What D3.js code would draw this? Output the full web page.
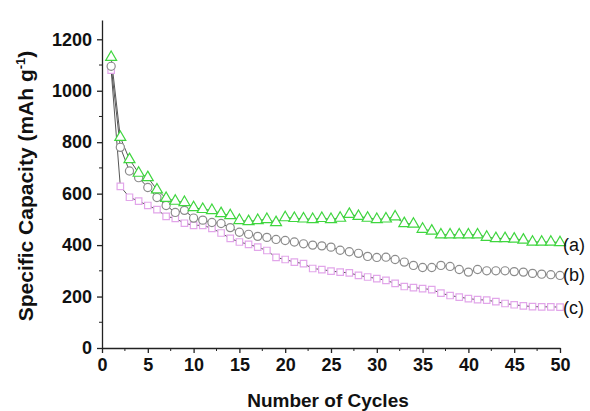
<!DOCTYPE html>
<html>
<head>
<meta charset="utf-8">
<script src="https://cdn.jsdelivr.net/npm/d3@7/dist/d3.min.js"></script>
<style>
  html, body { margin: 0; padding: 0; background: #fff; }
  svg { display: block; font-family: "Liberation Sans", Arial, sans-serif; }
</style>
</head>
<body>
<svg id="chart" width="590" height="411"></svg>
<script>
// Cycle numbers 1..50
const cycles = d3.range(1, 51);

// (a) specific capacity, mAh g-1
const seriesA = [1130, 819, 733, 680, 663, 615, 582, 571, 566, 546,
                 539, 535, 523, 515, 496, 492, 496, 500, 488, 507,
                 504, 502, 500, 504, 500, 505, 520, 512, 505, 500,
                 502, 510, 484, 482, 462, 455, 440, 440, 440, 440,
                 440, 431, 426, 426, 424, 420, 412, 412, 412, 410];

// (b)
const seriesB = [1095, 780, 688, 662, 624, 585, 554, 527, 535, 505,
                 497, 488, 484, 468, 450, 442, 434, 430, 422, 418,
                 412, 405, 400, 397, 392, 380, 374, 368, 356, 352,
                 353, 344, 334, 321, 313, 313, 321, 317, 305, 295,
                 305, 300, 300, 300, 297, 295, 290, 287, 285, 282];

// (c)
const seriesC = [1080, 628, 586, 571, 554, 538, 512, 504, 485, 477,
                 477, 465, 447, 426, 412, 403, 392, 379, 352, 344,
                 334, 328, 309, 305, 299, 295, 292, 282, 276, 270,
                 263, 251, 239, 235, 231, 227, 213, 204, 198, 192,
                 188, 186, 180, 173, 168, 164, 161, 160, 160, 159];

const seriesLabels = ["(a)", "(b)", "(c)"];
const yTicks = [0, 200, 400, 600, 800, 1000, 1200];
const yMinorTicks = [100, 300, 500, 700, 900, 1100];
const xTicks = [0, 5, 10, 15, 20, 25, 30, 35, 40, 45, 50];
const xMinorTicks = [2.5, 7.5, 12.5, 17.5, 22.5, 27.5, 32.5, 37.5, 42.5, 47.5];

const svg = d3.select("#chart");

const x = d3.scaleLinear().domain([0, 50]).range([102, 560]);
const y = d3.scaleLinear().domain([0, 1275]).range([348, 20]);

// Axes
const xAxis = d3.axisBottom(x).tickValues(xTicks).tickFormat(d3.format("d"))
  .tickSize(5).tickSizeOuter(0).tickPadding(5);
const gx = svg.append("g").attr("transform", `translate(0,${y(0)})`).call(xAxis);
gx.selectAll("text").style("font-size", "18px").style("font-weight", "bold").attr("fill", "#111");
gx.append("g").selectAll("line").data(xMinorTicks).join("line")
  .attr("x1", d => x(d)).attr("x2", d => x(d)).attr("y1", 0).attr("y2", 3)
  .attr("stroke", "#222");

const yAxis = d3.axisLeft(y).tickValues(yTicks).tickFormat(d3.format("d"))
  .tickSize(5).tickSizeOuter(0).tickPadding(5);
const gy = svg.append("g").attr("transform", `translate(${x(0)},0)`).call(yAxis);
gy.selectAll("text").style("font-size", "18px").style("font-weight", "bold").attr("fill", "#111");
gy.append("g").selectAll("line").data(yMinorTicks).join("line")
  .attr("x1", 0).attr("x2", -3).attr("y1", d => y(d)).attr("y2", d => y(d))
  .attr("stroke", "#222");

svg.selectAll(".domain, .tick line").attr("stroke", "#222").attr("stroke-width", 1.3);

// Axis titles
svg.append("text")
  .attr("x", 328).attr("y", 407)
  .attr("text-anchor", "middle")
  .style("font-size", "19px").style("font-weight", "bold").attr("fill", "#111")
  .text("Number of Cycles");

const yt = svg.append("text")
  .attr("transform", "translate(33,186) rotate(-90)")
  .attr("text-anchor", "middle")
  .style("font-size", "21px").style("font-weight", "bold").attr("fill", "#111");
yt.append("tspan").text("Specific Capacity (mAh g");
yt.append("tspan").attr("dy", -8).style("font-size", "13px").text("-1");
yt.append("tspan").attr("dy", 8).text(")");

// Series
const series = [
  { values: seriesA, color: "#3fd63f", shape: "triangle" },
  { values: seriesB, color: "#8c8c8c", shape: "circle" },
  { values: seriesC, color: "#e2a6ea", shape: "square" }
];

const line = d3.line().x((d, i) => x(cycles[i])).y(d => y(d));

// connecting lines drawn beneath all markers
series.slice().reverse().forEach(s => {
  svg.append("path").datum(s.values)
    .attr("d", line).attr("fill", "none")
    .attr("stroke", "#444").attr("stroke-width", 0.9);
});

const symbolType = { triangle: d3.symbolTriangle, circle: d3.symbolCircle, square: d3.symbolSquare };
const symbolSize = { triangle: 52, circle: 52, square: 42 };

series.slice().reverse().forEach(s => {
  const sym = d3.symbol().type(symbolType[s.shape]).size(symbolSize[s.shape]);
  svg.append("g").selectAll("path").data(s.values).join("path")
    .attr("transform", (d, i) => `translate(${x(cycles[i])},${y(d)})`)
    .attr("d", sym)
    .attr("fill", "white")
    .attr("stroke", s.color)
    .attr("stroke-width", 1.2);
});

// Series labels at the end of each curve
const labelY = [403, 283, 156];
seriesLabels.forEach((t, i) => {
  svg.append("text")
    .attr("x", 563).attr("y", y(labelY[i]))
    .attr("dy", "0.35em")
    .style("font-size", "18px").attr("fill", "#111")
    .text(t);
});
</script>
</body>
</html>
